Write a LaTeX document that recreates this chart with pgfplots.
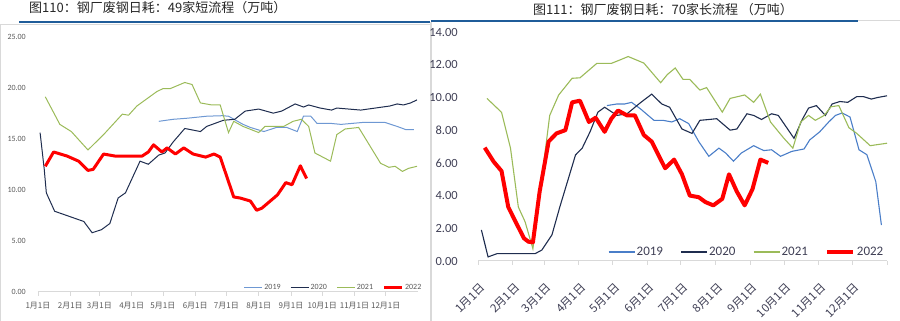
\documentclass[border=0pt]{standalone}
\usepackage{pgfplots}
\pgfplotsset{compat=1.18}
\usepackage{fontspec}
\setmainfont{Carlito}
\newfontfamily\cjk{Noto Sans CJK SC}
\definecolor{c19}{HTML}{4A7EC8}
\definecolor{c20}{HTML}{1F2D4F}
\definecolor{c21}{HTML}{9BBB59}
\definecolor{c22}{HTML}{FF0000}
\definecolor{rule}{HTML}{1F5C99}
\definecolor{frame}{HTML}{D9D9D9}
\definecolor{lt}{HTML}{595959}
\definecolor{rt}{HTML}{3F3F55}
\begin{document}
\begin{tikzpicture}[x=1pt,y=1pt]
\useasboundingbox (0,0) rectangle (900,321);
% frames and rules
\draw[frame, line width=1pt] (0.5,0) -- (0.5,296) -- (431,296);
\draw[frame, line width=1.2pt] (431,0) -- (431,299);
\draw[rule, line width=1.5pt] (19,299) -- (430,299);
\draw[rule, line width=1.2pt] (431,300) -- (858,300);
\draw[frame, line width=1pt] (858,300) -- (900,300);
% titles
\node[anchor=west, inner sep=0pt, text=black!85] at (29,313) {\cjk\fontsize{13}{13}\selectfont 图110：钢厂废钢日耗：49家短流程（万吨）};
\node[anchor=center, inner sep=0pt, text=black!85] at (663,311) {\cjk\fontsize{13}{13}\selectfont 图111：钢厂废钢日耗：70家长流程 （万吨）};

% ---------------- left axis ----------------
\begin{axis}[
  at={(38pt,29pt)}, anchor=south west,
  scale only axis, width=380pt, height=255.5pt,
  xmin=0, xmax=365, ymin=0, ymax=25,
  axis x line=bottom, axis y line=left,
  axis line style={-, draw=frame, line width=1pt},
  y axis line style={draw=none},
  xtick={0,31,59,90,120,151,181,212,243,273,304,334},
  xticklabels={1月1日,2月1日,3月1日,4月1日,5月1日,6月1日,7月1日,8月1日,9月1日,10月1日,11月1日,12月1日},
  xticklabel style={font=\cjk\fontsize{8}{8}\selectfont, text=lt, inner sep=0pt, yshift=-6pt},
  ytick={0,5,10,15,20,25},
  yticklabels={0.00,5.00,10.00,15.00,20.00,25.00},
  yticklabel style={font=\fontsize{8}{8}\selectfont, text=lt, inner sep=0pt, anchor=east, xshift=-8pt},
  ytick style={draw=none},
  xtick style={draw=frame, line width=0.8pt},
  tick align=outside, major tick length=4pt,
  legend columns=4,
  legend style={draw=none, fill=none, at={(1,0)}, anchor=east, xshift=5pt, yshift=4pt, inner sep=0pt,
    font=\fontsize{8}{8}\selectfont, text=lt, nodes={inner sep=1.5pt},
    /tikz/every even column/.append style={column sep=8pt}},
  legend image code/.code={\draw[#1] (0pt,0pt) -- (18pt,0pt);},
]
\addplot[c19!80, line width=1pt] coordinates {(116,16.7)(130,16.9)(143,17.0)(162,17.2)(177,17.25)(183,17.2)(197,16.4)(204,16.1)(217,15.7)(229,16.1)(239,16.1)(249,15.7)(255,17.2)(262,17.2)(268,16.5)(281,16.5)(291,16.4)(313,16.6)(333,16.6)(345,16.2)(353,15.9)(361,15.9)};
\addlegendentry{2019}
\addplot[c20, line width=1pt] coordinates {(2,15.6)(6,12.0)(8,9.7)(16,7.9)(44,6.9)(52,5.8)(61,6.1)(69,6.7)(77,9.2)(84,9.7)(98,12.8)(106,12.5)(116,13.4)(122,13.6)(130,14.7)(141,16.0)(156,15.7)(162,16.2)(178,16.8)(189,16.9)(199,17.7)(212,17.9)(226,17.5)(234,17.7)(247,18.4)(255,18.1)(260,18.3)(271,18.0)(282,17.8)(287,18.0)(310,17.8)(338,18.2)(345,18.4)(351,18.3)(358,18.5)(364,18.8)};
\addlegendentry{2020}
\addplot[c21, line width=1pt] coordinates {(7,19.1)(21,16.4)(32,15.7)(48,13.9)(63,15.4)(81,17.4)(87,17.3)(95,18.2)(114,19.6)(120,19.9)(127,19.9)(141,20.5)(148,20.3)(156,18.5)(167,18.3)(175,18.3)(183,15.6)(188,16.7)(197,16.2)(212,15.6)(218,16.2)(226,16.2)(236,16.2)(245,16.7)(253,16.9)(260,16.2)(266,13.6)(281,12.8)(287,15.4)(295,15.95)(308,16.1)(329,12.6)(337,12.2)(343,12.3)(350,11.8)(356,12.1)(364,12.3)};
\addlegendentry{2021}
\addplot[c22, line width=3pt, line join=round] coordinates {(7,12.3)(15,13.7)(28,13.3)(39,12.8)(48,11.9)(53,12.0)(63,13.5)(74,13.3)(88,13.3)(100,13.3)(106,13.7)(111,14.4)(119,13.7)(124,14.1)(132,13.5)(140,14.1)(149,13.5)(161,13.2)(169,13.5)(175,13.2)(188,9.3)(194,9.2)(204,8.9)(210,8.0)(215,8.2)(230,9.5)(238,10.7)(244,10.5)(252,12.35)(258,11.1)};
\addlegendentry{2022}
\end{axis}

% ---------------- right axis ----------------
\begin{axis}[
  at={(478pt,60pt)}, anchor=south west,
  scale only axis, width=409pt, height=229pt,
  xmin=0, xmax=365, ymin=0, ymax=14,
  axis x line=bottom, axis y line=left,
  axis line style={-, draw=frame, line width=1pt},
  y axis line style={draw=none},
  xtick={0,31,59,90,120,151,181,212,243,273,304,334,365},
  xticklabels={1月1日,2月1日,3月1日,4月1日,5月1日,6月1日,7月1日,8月1日,9月1日,10月1日,11月1日,12月1日,{}},
  xticklabel style={font=\cjk\fontsize{11.5}{11.5}\selectfont, text=rt, inner sep=0pt, rotate=45, anchor=east, yshift=-18pt, xshift=-11pt},
  ytick={0,2,4,6,8,10,12,14},
  yticklabels={0.00,2.00,4.00,6.00,8.00,10.00,12.00,14.00},
  yticklabel style={font=\fontsize{12.5}{12.5}\selectfont, text=rt, inner sep=0pt, anchor=east, xshift=-16pt},
  ytick style={draw=none},
  xtick style={draw=frame, line width=0.8pt},
  tick align=outside, major tick length=4pt,
  legend columns=4,
  legend style={draw=none, fill=none, at={(1,0)}, anchor=east, xshift=-2pt, yshift=9pt, inner sep=0pt,
    font=\fontsize{13}{13}\selectfont, text=rt, nodes={inner sep=1.5pt},
    /tikz/every even column/.append style={column sep=16pt}},
  legend image code/.code={\draw[#1] (0pt,0pt) -- (26pt,0pt);},
]
\addplot[c19, line width=1.1pt] coordinates {(115,9.5)(124,9.6)(131,9.6)(137,9.7)(145,9.3)(157,8.6)(165,8.6)(173,8.5)(180,8.7)(188,8.4)(197,7.3)(206,6.4)(215,6.9)(221,6.6)(228,6.1)(235,6.6)(246,7.05)(255,6.75)(262,6.8)(270,6.4)(280,6.7)(291,6.85)(296,7.4)(305,7.9)(313,8.5)(319,8.9)(325,9.05)(332,8.8)(340,6.8)(347,6.5)(355,4.85)(360,2.2)};
\addlegendentry{2019}
\addplot[c20, line width=1.1pt] coordinates {(3,1.9)(9,0.25)(17,0.45)(51,0.45)(57,0.67)(66,1.6)(73,3.3)(87,6.48)(93,6.9)(100,7.9)(107,9.1)(113,9.4)(124,8.9)(133,9.0)(145,9.68)(155,10.2)(164,9.6)(171,9.4)(182,8.07)(191,7.8)(198,8.6)(206,8.65)(213,8.7)(225,8.0)(231,8.07)(240,9.0)(246,8.9)(253,8.65)(262,9.0)(268,8.9)(282,7.5)(289,8.6)(295,9.35)(302,9.5)(310,8.9)(316,9.6)(323,9.75)(330,9.7)(338,10.05)(344,10.05)(351,9.9)(357,10.0)(365,10.1)};
\addlegendentry{2020}
\addplot[c21, line width=1.1pt] coordinates {(8,9.94)(21,9.09)(29,6.9)(36,3.3)(42,2.4)(49,0.75)(64,8.9)(72,10.15)(84,11.17)(91,11.2)(106,12.08)(119,12.08)(127,12.3)(134,12.5)(148,12.1)(163,10.9)(169,11.4)(176,11.8)(183,11.1)(189,11.1)(198,10.45)(204,10.6)(218,9.1)(225,9.94)(238,10.15)(246,9.7)(252,10.2)(261,8.5)(273,7.5)(281,6.9)(288,8.5)(295,8.9)(301,8.6)(309,8.9)(315,9.43)(322,9.5)(331,8.15)(338,7.8)(350,7.05)(365,7.2)};
\addlegendentry{2021}
\addplot[c22, line width=4pt, line join=round] coordinates {(6,6.93)(14,6.07)(21,5.5)(27,3.3)(35,2.2)(41,1.39)(45,1.18)(49,1.14)(55,4.24)(63,7.3)(70,7.8)(78,8.0)(84,9.7)(91,9.8)(99,8.5)(105,8.76)(113,7.9)(119,8.7)(125,9.2)(133,8.9)(140,8.9)(148,7.7)(155,7.3)(167,5.67)(175,6.2)(182,5.3)(189,4.0)(197,3.9)(203,3.6)(210,3.4)(218,3.8)(224,5.3)(231,4.24)(238,3.4)(245,4.4)(252,6.2)(259,6.0)};
\addlegendentry{2022}
\end{axis}
\end{tikzpicture}
\end{document}
